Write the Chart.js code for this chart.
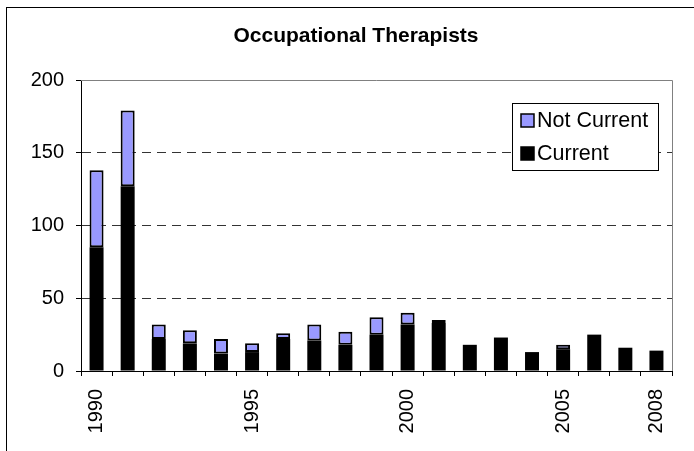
<!DOCTYPE html>
<html>
<head>
<meta charset="utf-8">
<script src="https://cdn.jsdelivr.net/npm/chart.js@4"></script>
<style>
	html, body { margin: 0; padding: 0; background: #fff; overflow: hidden; }
	#frame { position: absolute; left: 6px; top: 7px; width: 720px; height: 480px; border: 1px solid #000; }
	#wrap { position: absolute; left: 0; top: 0; width: 694px; height: 451px; }
</style>
</head>
<body>
<div id="frame"></div>
<div id="wrap"><canvas id="myChart" width="694" height="451"></canvas></div>
<script>
	const chartTitle = "Occupational Therapists";
	const years = ["1990", "1991", "1992", "1993", "1994", "1995", "1996", "1997", "1998", "1999",
		"2000", "2001", "2002", "2003", "2004", "2005", "2006", "2007", "2008"];
	const current = [85, 127, 22, 19, 12, 13, 22, 21, 18, 25, 32, 33, 18, 23, 13, 15, 25, 16, 14];
	const notCurrent = [53, 52, 10, 9, 10, 6, 4, 11, 9, 12, 8, 2, 0, 0, 0, 3, 0, 0, 0];
	const shownYears = ["1990", "1995", "2000", "2005", "2008"];
	const yTicks = [0, 50, 100, 150, 200];

	const fontFamily = "'Liberation Sans', Arial, sans-serif";

	// title, frame of the plot area (top and right edges) plus the boxed legend
	const extras = {
		id: "extras",
		afterDraw(chart) {
			const ctx = chart.ctx;
			const a = chart.chartArea;
			ctx.save();

			// title, centred on the outer frame rather than on the canvas
			ctx.fillStyle = "#000";
			ctx.font = "bold 21px " + fontFamily;
			ctx.textAlign = "center";
			ctx.textBaseline = "middle";
			ctx.fillText(chartTitle, 356, 36);

			ctx.strokeStyle = "#808080";
			ctx.lineWidth = 1;
			ctx.beginPath();
			ctx.moveTo(a.left, a.top + 0.5);
			ctx.lineTo(a.right + 0.5, a.top + 0.5);
			ctx.lineTo(a.right + 0.5, a.bottom);
			ctx.stroke();

			// legend box
			const bx = 512, by = 103, bw = 146, bh = 67;
			ctx.fillStyle = "#fff";
			ctx.fillRect(bx, by, bw, bh);
			ctx.strokeStyle = "#000";
			ctx.strokeRect(bx + 0.5, by + 0.5, bw, bh);

			const items = [chart.data.datasets[1], chart.data.datasets[0]];
			ctx.font = "21.5px " + fontFamily;
			ctx.textAlign = "left";
			ctx.textBaseline = "middle";
			items.forEach(function (ds, i) {
				const cy = 120 + i * 33;
				ctx.fillStyle = ds.backgroundColor;
				ctx.fillRect(521, cy - 6, 13, 13);
				ctx.strokeStyle = "#000";
				ctx.lineWidth = 1.5;
				ctx.strokeRect(521, cy - 6, 13, 13);
				ctx.fillStyle = "#000";
				ctx.fillText(ds.label, 537, cy + 1);
			});
			ctx.restore();
		},
	};

	var ctx = document.getElementById("myChart").getContext("2d");
	var chartCanvas = new Chart(ctx, {
		type: "bar",
		data: {
			labels: years,
			datasets: [
				{
					label: "Current",
					data: current,
					backgroundColor: "#000000",
					borderWidth: 0,
					barPercentage: 0.45,
					categoryPercentage: 1,
				},
				{
					label: "Not Current",
					data: notCurrent,
					backgroundColor: "#9999FF",
					borderColor: "#000000",
					borderWidth: 2,
					borderSkipped: false,
					barPercentage: 0.45,
					categoryPercentage: 1,
				},
			],
		},
		options: {
			responsive: false,
			animation: false,
			layout: { padding: { left: 0, right: 21, top: 80, bottom: 0 } },
			plugins: {
				legend: { display: false },
				tooltip: { enabled: false },
				title: { display: false },
			},
			scales: {
				x: {
					stacked: true,
					offset: true,
					afterFit: function (scale) { scale.height = 80; },
					grid: {
						offset: true,
						drawOnChartArea: false,
						drawTicks: true,
						tickLength: 5,
						tickColor: "#000",
					},
					border: { color: "#000", width: 1 },
					ticks: {
						autoSkip: false,
						minRotation: 90,
						maxRotation: 90,
						padding: 13,
						color: "#000",
						font: { family: fontFamily, size: 20 },
						callback: function (value) {
							const lab = this.getLabelForValue(value);
							return shownYears.includes(lab) ? lab : "";
						},
					},
				},
				y: {
					stacked: true,
					min: 0,
					max: 200,
					afterFit: function (scale) { scale.width = 81; },
					afterBuildTicks: function (scale) {
						scale.ticks = yTicks.map((v) => ({ value: v }));
					},
					grid: {
						color: function (c) {
							return c.tick && (c.tick.value === 0 || c.tick.value === 200) ? "rgba(0,0,0,0)" : "#333";
						},
						lineWidth: 1,
						tickLength: 5,
						tickColor: "#000",
					},
					border: { color: "#000", width: 1, dash: [9, 6] },
					ticks: {
						padding: 12,
						color: "#000",
						font: { family: fontFamily, size: 20 },
					},
				},
			},
		},
		plugins: [extras],
	});
</script>
</body>
</html>
